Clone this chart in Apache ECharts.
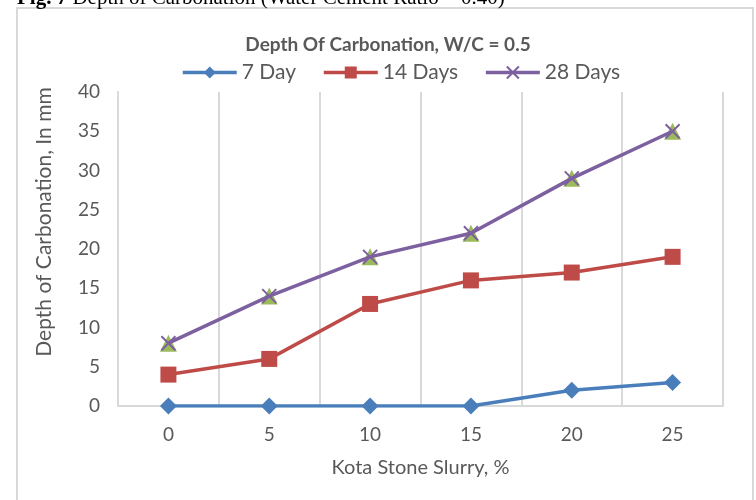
<!DOCTYPE html>
<html>
<head>
<meta charset="utf-8">
<script src="https://cdn.jsdelivr.net/npm/echarts@6/dist/echarts.min.js"></script>
<style>
  html, body { margin: 0; padding: 0; background: #fff; }
  #chart { width: 756px; height: 500px; }
</style>
</head>
<body>
<div id="chart"></div>
<script>
// data
var slurry = ['0', '5', '10', '15', '20', '25'];
var day7 = [0, 0, 0, 0, 2, 3];
var day14 = [4, 6, 13, 16, 17, 19];
var day28 = [8, 14, 19, 22, 29, 35];
var yTicks = [0, 5, 10, 15, 20, 25, 30, 35, 40];

var grey = '#595959';
var font = 'Lato, "Open Sans", sans-serif';
var crossPath = 'path://M0,0 L10,10 M10,0 L0,10';

var chart = echarts.init(document.getElementById('chart'));

var option = {
    backgroundColor: '#fff',
    animation: false,
    title: {
        text: 'Depth Of Carbonation, W/C = 0.5',
        left: 383,
        top: 30,
        textAlign: 'center',
        textStyle: { color: grey, fontSize: 19, fontWeight: 'bold', fontFamily: font }
    },
    legend: {
        data: ['7 Day', '14 Days', '28 Days'],
        top: 57,
        left: 176,
        itemWidth: 54,
        itemHeight: 15,
        itemGap: 26,
        lineStyle: { width: 3.5 },
        textStyle: { color: grey, fontSize: 21, fontFamily: font }
    },
    grid: { left: 118, right: 33, top: 92, bottom: 94 },
    xAxis: {
        type: 'category',
        data: slurry,
        boundaryGap: true,
        name: 'Kota Stone Slurry, %',
        nameLocation: 'middle',
        nameGap: 52,
        nameTextStyle: { color: grey, fontSize: 20, fontFamily: font },
        axisLine: { lineStyle: { color: '#d9d9d9', width: 2 } },
        axisTick: { show: false },
        axisLabel: { color: grey, fontSize: 19, fontFamily: font, margin: 19 },
        splitLine: { show: true, interval: 0, lineStyle: { color: '#d9d9d9', width: 2 } }
    },
    yAxis: {
        type: 'value',
        min: yTicks[0],
        max: yTicks[yTicks.length - 1],
        interval: 5,
        axisLine: { show: true, lineStyle: { color: '#d9d9d9', width: 2 } },
        axisTick: { show: false },
        splitLine: { show: false },
        axisLabel: { color: grey, fontSize: 19, fontFamily: font, margin: 18 }
    },
    graphic: [
        {
            type: 'rect',
            shape: { x: 17, y: 8, width: 736, height: 520 },
            style: { fill: 'none', stroke: '#d9d9d9', lineWidth: 2 },
            silent: true
        },
        {
            type: 'text',
            left: 17,
            top: -12,
            style: {
                text: '{b|Fig. 7} Depth of Carbonation (Water Cement Ratio = 0.40)',
                fill: '#000',
                font: '21px "Liberation Serif", serif',
                rich: {
                    b: { fontWeight: 'bold', fontSize: 21, fontFamily: '"Liberation Serif", serif', fill: '#000' }
                }
            }
        },
        {
            type: 'text',
            x: 44,
            y: 222,
            rotation: Math.PI / 2,
            style: {
                text: 'Depth of Carbonation, In mm',
                fill: grey,
                font: '21px ' + font,
                align: 'center',
                verticalAlign: 'middle'
            }
        }
    ],
    series: [
        {
            name: '7 Day',
            type: 'line',
            data: day7,
            symbol: 'diamond',
            symbolSize: 17,
            itemStyle: { color: '#4a7ebb' },
            lineStyle: { color: '#4a7ebb', width: 3.5 },
            z: 3
        },
        {
            name: '14 Days',
            type: 'line',
            data: day14,
            symbol: 'rect',
            symbolSize: 16,
            itemStyle: { color: '#be4b48' },
            lineStyle: { color: '#be4b48', width: 3.5 },
            z: 3
        },
        {
            name: '28 Days marker',
            type: 'line',
            data: day28,
            symbol: 'triangle',
            symbolSize: 17,
            itemStyle: { color: '#9bbb59' },
            lineStyle: { width: 0, opacity: 0 },
            z: 2
        },
        {
            name: '28 Days',
            type: 'line',
            data: day28,
            symbol: crossPath,
            symbolSize: 14,
            itemStyle: { color: '#7d60a0', borderColor: '#7d60a0', borderWidth: 2 },
            lineStyle: { color: '#7d60a0', width: 3.5 },
            z: 3
        }
    ]
};

chart.setOption(option);
</script>
</body>
</html>
